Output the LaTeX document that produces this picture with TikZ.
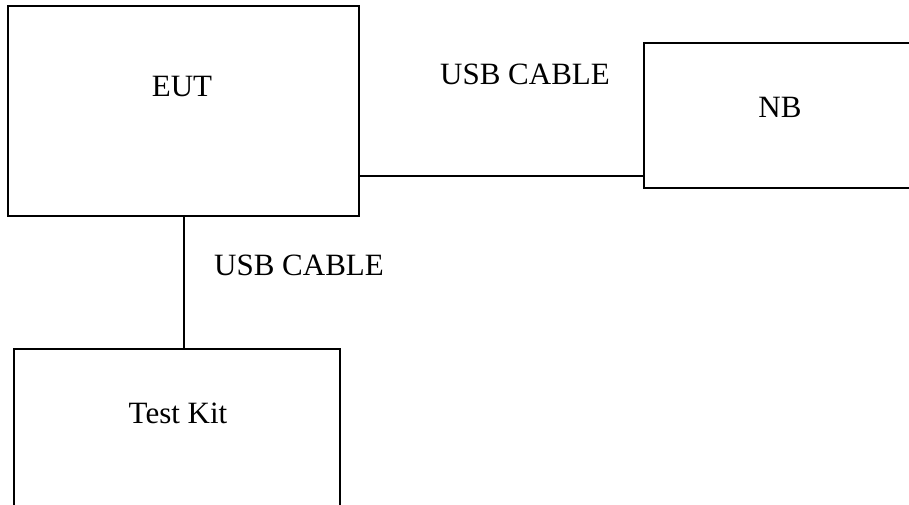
\documentclass[tikz,border=0pt]{standalone}
\usepackage{fontspec}
\setmainfont{Liberation Serif}
\begin{document}
\begin{tikzpicture}[x=1pt,y=-1pt,
  box/.style={draw=black,line width=1.6pt,fill=none},
  lbl/.style={font=\fontsize{31}{36}\selectfont,text=black,inner sep=0pt},
  cable/.style={draw=black,line width=1.6pt}]
\useasboundingbox (0,0) rectangle (909,504);
\fill[white] (0,0) rectangle (909,504);
% boxes
\draw[box] (8,6) rectangle (359,216);
\coordinate (eutR) at (359,176);
\coordinate (eutB) at (184,216);
\draw[box] (644,43) -- (930,43) -- (930,188) -- (644,188) -- cycle;
\coordinate (nbL) at (644,176);
\draw[box] (14,349) -- (340,349) -- (340,530) -- (14,530) -- cycle;
\coordinate (tkT) at (184,349);
% labels
\node[lbl] (eut) at (182,86) {EUT};
\node[lbl] (nb) at (780,107) {NB};
\node[lbl] (tk) at (178,413) {Test Kit};
\node[lbl] (c1) at (525,74) {USB CABLE};
\node[lbl] (c2) at (299,265) {USB CABLE};
% cables
\draw[cable] (eutR) -- (nbL);
\draw[cable] (eutB) -- (tkT);
\end{tikzpicture}
\end{document}
